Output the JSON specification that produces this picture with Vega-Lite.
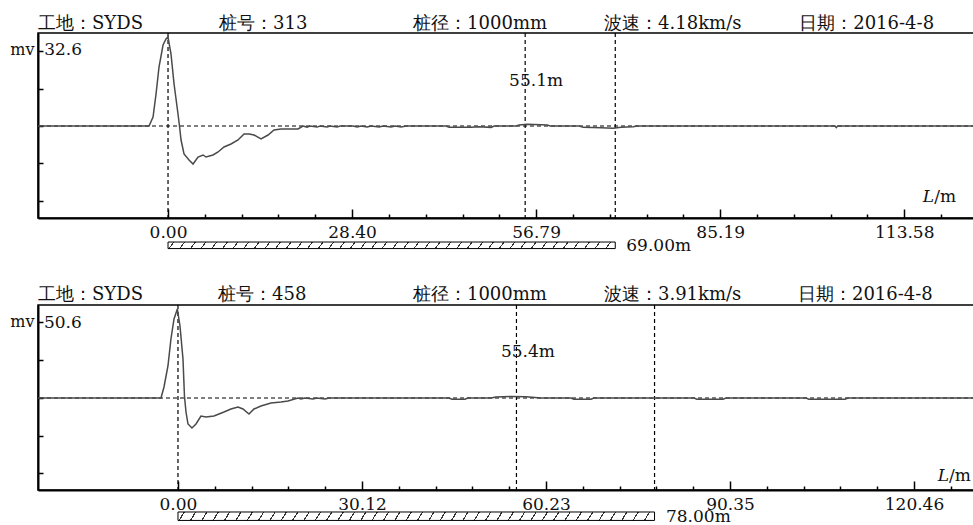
{
  "$schema": "https://vega.github.io/schema/vega-lite/v6.json",
  "background": "white",
  "padding": {"left": 9, "top": 13, "right": 0, "bottom": 0},
  "bounds": "flush",
  "spacing": 87,
  "config": {
    "view": {"stroke": "#000", "strokeWidth": 1.5},
    "font": "DejaVu Serif",
    "text": {"font": "DejaVu Serif", "fontSize": 17, "color": "#111"},
    "axis": {"grid": false, "domainColor": "#000", "domainWidth": 2, "tickColor": "#000", "tickWidth": 1.5, "labelFont": "DejaVu Serif", "labelFontSize": 17, "labelColor": "#111", "labelOverlap": false, "labelFlush": false, "labelBound": false},
    "rect": {
      "stroke": "#000", "strokeWidth": 1,
      "fill": {"gradient": "linear", "x1": 0, "y1": 0, "x2": 1, "y2": 0.011, "stops": [
        {"offset": 0.0119, "color": "#fff"}, {"offset": 0.0119, "color": "#333"}, {"offset": 0.0147, "color": "#333"}, {"offset": 0.0147, "color": "#fff"},
        {"offset": 0.0357, "color": "#fff"}, {"offset": 0.0357, "color": "#333"}, {"offset": 0.0385, "color": "#333"}, {"offset": 0.0385, "color": "#fff"},
        {"offset": 0.0595, "color": "#fff"}, {"offset": 0.0595, "color": "#333"}, {"offset": 0.0623, "color": "#333"}, {"offset": 0.0623, "color": "#fff"},
        {"offset": 0.0833, "color": "#fff"}, {"offset": 0.0833, "color": "#333"}, {"offset": 0.0861, "color": "#333"}, {"offset": 0.0861, "color": "#fff"},
        {"offset": 0.1071, "color": "#fff"}, {"offset": 0.1071, "color": "#333"}, {"offset": 0.1099, "color": "#333"}, {"offset": 0.1099, "color": "#fff"},
        {"offset": 0.1310, "color": "#fff"}, {"offset": 0.1310, "color": "#333"}, {"offset": 0.1338, "color": "#333"}, {"offset": 0.1338, "color": "#fff"},
        {"offset": 0.1548, "color": "#fff"}, {"offset": 0.1548, "color": "#333"}, {"offset": 0.1576, "color": "#333"}, {"offset": 0.1576, "color": "#fff"},
        {"offset": 0.1786, "color": "#fff"}, {"offset": 0.1786, "color": "#333"}, {"offset": 0.1814, "color": "#333"}, {"offset": 0.1814, "color": "#fff"},
        {"offset": 0.2024, "color": "#fff"}, {"offset": 0.2024, "color": "#333"}, {"offset": 0.2052, "color": "#333"}, {"offset": 0.2052, "color": "#fff"},
        {"offset": 0.2262, "color": "#fff"}, {"offset": 0.2262, "color": "#333"}, {"offset": 0.2290, "color": "#333"}, {"offset": 0.2290, "color": "#fff"},
        {"offset": 0.2500, "color": "#fff"}, {"offset": 0.2500, "color": "#333"}, {"offset": 0.2528, "color": "#333"}, {"offset": 0.2528, "color": "#fff"},
        {"offset": 0.2738, "color": "#fff"}, {"offset": 0.2738, "color": "#333"}, {"offset": 0.2766, "color": "#333"}, {"offset": 0.2766, "color": "#fff"},
        {"offset": 0.2976, "color": "#fff"}, {"offset": 0.2976, "color": "#333"}, {"offset": 0.3004, "color": "#333"}, {"offset": 0.3004, "color": "#fff"},
        {"offset": 0.3214, "color": "#fff"}, {"offset": 0.3214, "color": "#333"}, {"offset": 0.3242, "color": "#333"}, {"offset": 0.3242, "color": "#fff"},
        {"offset": 0.3452, "color": "#fff"}, {"offset": 0.3452, "color": "#333"}, {"offset": 0.3480, "color": "#333"}, {"offset": 0.3480, "color": "#fff"},
        {"offset": 0.3690, "color": "#fff"}, {"offset": 0.3690, "color": "#333"}, {"offset": 0.3718, "color": "#333"}, {"offset": 0.3718, "color": "#fff"},
        {"offset": 0.3929, "color": "#fff"}, {"offset": 0.3929, "color": "#333"}, {"offset": 0.3957, "color": "#333"}, {"offset": 0.3957, "color": "#fff"},
        {"offset": 0.4167, "color": "#fff"}, {"offset": 0.4167, "color": "#333"}, {"offset": 0.4195, "color": "#333"}, {"offset": 0.4195, "color": "#fff"},
        {"offset": 0.4405, "color": "#fff"}, {"offset": 0.4405, "color": "#333"}, {"offset": 0.4433, "color": "#333"}, {"offset": 0.4433, "color": "#fff"},
        {"offset": 0.4643, "color": "#fff"}, {"offset": 0.4643, "color": "#333"}, {"offset": 0.4671, "color": "#333"}, {"offset": 0.4671, "color": "#fff"},
        {"offset": 0.4881, "color": "#fff"}, {"offset": 0.4881, "color": "#333"}, {"offset": 0.4909, "color": "#333"}, {"offset": 0.4909, "color": "#fff"},
        {"offset": 0.5119, "color": "#fff"}, {"offset": 0.5119, "color": "#333"}, {"offset": 0.5147, "color": "#333"}, {"offset": 0.5147, "color": "#fff"},
        {"offset": 0.5357, "color": "#fff"}, {"offset": 0.5357, "color": "#333"}, {"offset": 0.5385, "color": "#333"}, {"offset": 0.5385, "color": "#fff"},
        {"offset": 0.5595, "color": "#fff"}, {"offset": 0.5595, "color": "#333"}, {"offset": 0.5623, "color": "#333"}, {"offset": 0.5623, "color": "#fff"},
        {"offset": 0.5833, "color": "#fff"}, {"offset": 0.5833, "color": "#333"}, {"offset": 0.5861, "color": "#333"}, {"offset": 0.5861, "color": "#fff"},
        {"offset": 0.6071, "color": "#fff"}, {"offset": 0.6071, "color": "#333"}, {"offset": 0.6099, "color": "#333"}, {"offset": 0.6099, "color": "#fff"},
        {"offset": 0.6310, "color": "#fff"}, {"offset": 0.6310, "color": "#333"}, {"offset": 0.6338, "color": "#333"}, {"offset": 0.6338, "color": "#fff"},
        {"offset": 0.6548, "color": "#fff"}, {"offset": 0.6548, "color": "#333"}, {"offset": 0.6576, "color": "#333"}, {"offset": 0.6576, "color": "#fff"},
        {"offset": 0.6786, "color": "#fff"}, {"offset": 0.6786, "color": "#333"}, {"offset": 0.6814, "color": "#333"}, {"offset": 0.6814, "color": "#fff"},
        {"offset": 0.7024, "color": "#fff"}, {"offset": 0.7024, "color": "#333"}, {"offset": 0.7052, "color": "#333"}, {"offset": 0.7052, "color": "#fff"},
        {"offset": 0.7262, "color": "#fff"}, {"offset": 0.7262, "color": "#333"}, {"offset": 0.7290, "color": "#333"}, {"offset": 0.7290, "color": "#fff"},
        {"offset": 0.7500, "color": "#fff"}, {"offset": 0.7500, "color": "#333"}, {"offset": 0.7528, "color": "#333"}, {"offset": 0.7528, "color": "#fff"},
        {"offset": 0.7738, "color": "#fff"}, {"offset": 0.7738, "color": "#333"}, {"offset": 0.7766, "color": "#333"}, {"offset": 0.7766, "color": "#fff"},
        {"offset": 0.7976, "color": "#fff"}, {"offset": 0.7976, "color": "#333"}, {"offset": 0.8004, "color": "#333"}, {"offset": 0.8004, "color": "#fff"},
        {"offset": 0.8214, "color": "#fff"}, {"offset": 0.8214, "color": "#333"}, {"offset": 0.8242, "color": "#333"}, {"offset": 0.8242, "color": "#fff"},
        {"offset": 0.8452, "color": "#fff"}, {"offset": 0.8452, "color": "#333"}, {"offset": 0.8480, "color": "#333"}, {"offset": 0.8480, "color": "#fff"},
        {"offset": 0.8690, "color": "#fff"}, {"offset": 0.8690, "color": "#333"}, {"offset": 0.8718, "color": "#333"}, {"offset": 0.8718, "color": "#fff"},
        {"offset": 0.8929, "color": "#fff"}, {"offset": 0.8929, "color": "#333"}, {"offset": 0.8957, "color": "#333"}, {"offset": 0.8957, "color": "#fff"},
        {"offset": 0.9167, "color": "#fff"}, {"offset": 0.9167, "color": "#333"}, {"offset": 0.9195, "color": "#333"}, {"offset": 0.9195, "color": "#fff"},
        {"offset": 0.9405, "color": "#fff"}, {"offset": 0.9405, "color": "#333"}, {"offset": 0.9433, "color": "#333"}, {"offset": 0.9433, "color": "#fff"},
        {"offset": 0.9643, "color": "#fff"}, {"offset": 0.9643, "color": "#333"}, {"offset": 0.9671, "color": "#333"}, {"offset": 0.9671, "color": "#fff"},
        {"offset": 0.9881, "color": "#fff"}, {"offset": 0.9881, "color": "#333"}, {"offset": 0.9909, "color": "#333"}, {"offset": 0.9909, "color": "#fff"}
      ]}
    }
  },
  "datasets": {
    "sig1": [
      {"d": -20.06, "v": 0}, {"d": -2.93, "v": 0}, {"d": -2.31, "v": 3.30}, {"d": -1.85, "v": 11.72}, {"d": -1.39, "v": 21.61}, {"d": -0.77, "v": 29.67}, {"d": -0.31, "v": 31.87}, {"d": 0, "v": 32.6}, {"d": 0.46, "v": 26.37}, {"d": 0.93, "v": 15.38}, {"d": 1.54, "v": 4.40}, {"d": 1.77, "v": 0}, {"d": 2.01, "v": -5.13}, {"d": 2.47, "v": -10.26}, {"d": 3.24, "v": -12.45}, {"d": 3.86, "v": -13.92}, {"d": 4.63, "v": -11.36}, {"d": 5.40, "v": -10.62}, {"d": 5.86, "v": -11.36}, {"d": 6.94, "v": -10.62}, {"d": 7.72, "v": -9.52}, {"d": 8.64, "v": -7.69}, {"d": 9.72, "v": -6.59}, {"d": 10.80, "v": -5.13}, {"d": 11.73, "v": -2.93}, {"d": 12.50, "v": -2.93}, {"d": 13.27, "v": -3.30}, {"d": 14.35, "v": -4.76}, {"d": 15.43, "v": -3.30}, {"d": 16.36, "v": -1.47}, {"d": 17.44, "v": -1.10}, {"d": 20.06, "v": -1.10}, {"d": 20.83, "v": 0},
      {"d": 21.45, "v": -0.4}, {"d": 21.91, "v": 0}, {"d": 22.99, "v": -0.4}, {"d": 23.46, "v": 0}, {"d": 24.54, "v": -0.4}, {"d": 25.0, "v": 0}, {"d": 26.08, "v": -0.4}, {"d": 26.54, "v": 0},
      {"d": 28.55, "v": 0}, {"d": 29.17, "v": -0.4}, {"d": 29.78, "v": 0}, {"d": 30.71, "v": -0.4}, {"d": 31.33, "v": 0}, {"d": 32.56, "v": -0.4}, {"d": 33.18, "v": 0}, {"d": 34.41, "v": -0.4}, {"d": 35.03, "v": 0}, {"d": 35.96, "v": -0.4}, {"d": 36.73, "v": 0},
      {"d": 42.90, "v": 0}, {"d": 43.36, "v": -0.5}, {"d": 46.76, "v": -0.5}, {"d": 47.99, "v": -0.3}, {"d": 49.85, "v": -0.5}, {"d": 50.31, "v": 0},
      {"d": 53.70, "v": 0}, {"d": 54.17, "v": 0.4}, {"d": 55.40, "v": 0.6}, {"d": 57.56, "v": 0.5}, {"d": 58.49, "v": 0.4}, {"d": 58.95, "v": 0},
      {"d": 63.43, "v": 0}, {"d": 64.04, "v": -0.5}, {"d": 66.82, "v": -0.6}, {"d": 68.67, "v": -0.8}, {"d": 69.91, "v": -0.5}, {"d": 71.76, "v": -0.3}, {"d": 72.38, "v": 0},
      {"d": 102.9, "v": 0}, {"d": 103.1, "v": -0.6}, {"d": 103.3, "v": 0}, {"d": 124.5, "v": 0}
    ],
    "sig2": [
      {"d": -22.91, "v": 0}, {"d": -2.78, "v": 0}, {"d": -2.29, "v": 6.25}, {"d": -1.64, "v": 18.19}, {"d": -1.15, "v": 33.54}, {"d": -0.65, "v": 44.91}, {"d": -0.1, "v": 50.6}, {"d": 0.33, "v": 40.93}, {"d": 0.82, "v": 22.17}, {"d": 1.06, "v": 1.14}, {"d": 1.31, "v": -7.96}, {"d": 1.64, "v": -14.78}, {"d": 2.29, "v": -17.06}, {"d": 2.95, "v": -14.78}, {"d": 3.76, "v": -10.23}, {"d": 4.58, "v": -10.80}, {"d": 5.89, "v": -10.23}, {"d": 7.53, "v": -7.96}, {"d": 8.67, "v": -6.25}, {"d": 9.82, "v": -5.12}, {"d": 10.64, "v": -6.25}, {"d": 11.62, "v": -9.10}, {"d": 12.44, "v": -6.25}, {"d": 13.58, "v": -4.55}, {"d": 15.22, "v": -2.84}, {"d": 16.86, "v": -2.27}, {"d": 18.00, "v": -1.71}, {"d": 19.64, "v": 0},
      {"d": 20.13, "v": -0.6}, {"d": 20.79, "v": 0}, {"d": 22.09, "v": -0.6}, {"d": 22.75, "v": 0}, {"d": 24.06, "v": -0.6}, {"d": 24.71, "v": 0},
      {"d": 44.35, "v": 0}, {"d": 44.84, "v": -0.7}, {"d": 46.97, "v": -0.7}, {"d": 47.46, "v": 0},
      {"d": 51.23, "v": 0}, {"d": 52.05, "v": 0.6}, {"d": 54.50, "v": 0.9}, {"d": 56.96, "v": 0.7}, {"d": 59.41, "v": 0},
      {"d": 64.32, "v": 0}, {"d": 64.81, "v": -0.7}, {"d": 67.59, "v": -0.7}, {"d": 68.08, "v": 0},
      {"d": 84.45, "v": 0}, {"d": 84.94, "v": -0.7}, {"d": 89.20, "v": -0.7}, {"d": 89.69, "v": 0},
      {"d": 102.78, "v": 0}, {"d": 103.27, "v": -0.7}, {"d": 109.17, "v": -0.7}, {"d": 109.66, "v": 0}, {"d": 130.45, "v": 0}
    ],
    "zero": [{"v": 0}],
    "vl1": [{"d": 0}, {"d": 55.1}, {"d": 69.0}],
    "vl2": [{"d": 0}, {"d": 55.4}, {"d": 78.0}],
    "hdr1": [
      {"t": "工地：SYDS", "d": -20.06, "v": 35.7},
      {"t": "桩号：313", "d": 7.87, "v": 35.7},
      {"t": "桩径：1000mm", "d": 37.81, "v": 35.7},
      {"t": "波速：4.18km/s", "d": 67.28, "v": 35.7},
      {"t": "日期：2016-4-8", "d": 97.38, "v": 35.7}
    ],
    "hdr2": [
      {"t": "工地：SYDS", "d": -22.91, "v": 55.9},
      {"t": "桩号：458", "d": 6.55, "v": 55.9},
      {"t": "桩径：1000mm", "d": 38.46, "v": 55.9},
      {"t": "波速：3.91km/s", "d": 69.72, "v": 55.9},
      {"t": "日期：2016-4-8", "d": 101.47, "v": 55.9}
    ],
    "lbl1": [
      {"t": "32.6", "d": -19.1, "v": 26.0},
      {"t": "55.1m", "d": 52.62, "v": 14.5},
      {"t": "69.00m", "d": 70.7, "v": -45.7},
      {"t": "/m", "d": 118.2, "v": -27.95}
    ],
    "lbl2": [
      {"t": "50.6", "d": -21.93, "v": 39.8},
      {"t": "55.4m", "d": 52.86, "v": 23.3},
      {"t": "78.00m", "d": 79.87, "v": -70.5},
      {"t": "/m", "d": 126.2, "v": -47.0}
    ],
    "mv1": [{"t": "mv", "d": -20.6, "v": 26.19}],
    "mv2": [{"t": "mv", "d": -23.49, "v": 40.4}],
    "ll1": [{"t": "L", "d": 118.2, "v": -27.95}],
    "ll2": [{"t": "L", "d": 126.2, "v": -47.0}],
    "bar1": [{"a": 0, "b": 69.0, "lo": -44.9, "hi": -42.5}],
    "bar2": [{"a": 0, "b": 78.0, "lo": -69.6, "hi": -64.8}]
  },
  "vconcat": [
    {
      "width": 937,
      "height": 185,
      "layer": [
        {
          "data": {"name": "zero"},
          "mark": {"type": "rule", "strokeDash": [4, 3], "color": "#000", "strokeWidth": 1.2},
          "encoding": {"y": {"field": "v", "type": "quantitative", "title": null}}
        },
        {
          "data": {"name": "vl1"},
          "mark": {"type": "rule", "strokeDash": [4, 3], "color": "#000", "strokeWidth": 1.2},
          "encoding": {"x": {"field": "d", "type": "quantitative", "title": null}}
        },
        {
          "data": {"name": "sig1"},
          "mark": {"type": "line", "color": "#4a4a4a", "strokeWidth": 1.5},
          "encoding": {
            "x": {"field": "d", "type": "quantitative", "title": null,
              "scale": {"domain": [-20.06, 124.5], "nice": false, "zero": false},
              "axis": {
                "values": [0, 5.679, 11.358, 17.038, 22.717, 28.396, 34.075, 39.754, 45.434, 51.113, 56.792, 62.471, 68.15, 73.83, 79.509, 85.188, 90.867, 96.546, 102.226, 107.905, 113.584, 119.263],
                "labelExpr": "indexof([0, 28.396, 56.792, 85.188, 113.584], datum.value) >= 0 ? format(datum.value, '.2f') : ''",
                "tickSize": {"condition": {"test": "indexof([0, 28.396, 56.792, 85.188, 113.584], datum.value) >= 0", "value": -9}, "value": -4},
                "labelBaseline": "alphabetic",
                "labelPadding": 28,
                "title": null
              }
            },
            "y": {"field": "v", "type": "quantitative", "title": null,
              "scale": {"domain": [-33.70, 34.07], "nice": false, "zero": false},
              "axis": {"values": [-27.5, -20.8, -13.7, -6.9, 0, 6.7, 13.4, 20.4, 27.5], "labels": false, "tickSize": -5, "title": null}
            }
          }
        },
        {
          "data": {"name": "hdr1"},
          "mark": {"type": "text", "align": "left", "baseline": "alphabetic", "fontSize": 18},
          "encoding": {
            "x": {"field": "d", "type": "quantitative", "title": null},
            "y": {"field": "v", "type": "quantitative", "title": null},
            "text": {"field": "t"}
          }
        },
        {
          "data": {"name": "lbl1"},
          "mark": {"type": "text", "align": "left", "baseline": "alphabetic", "fontSize": 17},
          "encoding": {
            "x": {"field": "d", "type": "quantitative", "title": null},
            "y": {"field": "v", "type": "quantitative", "title": null},
            "text": {"field": "t"}
          }
        },
        {
          "data": {"name": "mv1"},
          "mark": {"type": "text", "align": "right", "baseline": "alphabetic", "fontSize": 16},
          "encoding": {
            "x": {"field": "d", "type": "quantitative", "title": null},
            "y": {"field": "v", "type": "quantitative", "title": null},
            "text": {"field": "t"}
          }
        },
        {
          "data": {"name": "ll1"},
          "mark": {"type": "text", "align": "right", "baseline": "alphabetic", "fontSize": 17, "fontStyle": "italic"},
          "encoding": {
            "x": {"field": "d", "type": "quantitative", "title": null},
            "y": {"field": "v", "type": "quantitative", "title": null},
            "text": {"field": "t"}
          }
        },
        {
          "data": {"name": "bar1"},
          "mark": {"type": "rect"},
          "encoding": {
            "x": {"field": "a", "type": "quantitative", "title": null},
            "x2": {"field": "b"},
            "y": {"field": "lo", "type": "quantitative", "title": null},
            "y2": {"field": "hi"}
          }
        }
      ]
    },
    {
      "width": 937,
      "height": 185,
      "layer": [
        {
          "data": {"name": "zero"},
          "mark": {"type": "rule", "strokeDash": [4, 3], "color": "#000", "strokeWidth": 1.2},
          "encoding": {"y": {"field": "v", "type": "quantitative", "title": null}}
        },
        {
          "data": {"name": "vl2"},
          "mark": {"type": "rule", "strokeDash": [4, 3], "color": "#000", "strokeWidth": 1.2},
          "encoding": {"x": {"field": "d", "type": "quantitative", "title": null}}
        },
        {
          "data": {"name": "sig2"},
          "mark": {"type": "line", "color": "#4a4a4a", "strokeWidth": 1.5},
          "encoding": {
            "x": {"field": "d", "type": "quantitative", "title": null,
              "scale": {"domain": [-22.91, 130.45], "nice": false, "zero": false},
              "axis": {
                "values": [0, 6.023, 12.046, 18.07, 24.093, 30.116, 36.139, 42.162, 48.186, 54.209, 60.232, 66.255, 72.278, 78.302, 84.325, 90.348, 96.371, 102.394, 108.418, 114.441, 120.464, 126.487],
                "labelExpr": "indexof([0, 30.116, 60.232, 90.348, 120.464], datum.value) >= 0 ? format(datum.value, '.2f') : ''",
                "tickSize": {"condition": {"test": "indexof([0, 30.116, 60.232, 90.348, 120.464], datum.value) >= 0", "value": -9}, "value": -4},
                "labelBaseline": "alphabetic",
                "labelPadding": 28,
                "title": null
              }
            },
            "y": {"field": "v", "type": "quantitative", "title": null,
              "scale": {"domain": [-52.30, 52.87], "nice": false, "zero": false},
              "axis": {"values": [-42.8, -32.1, -21.4, -10.7, 0, 10.7, 21.4, 32.1, 43.0], "labels": false, "tickSize": -5, "title": null}
            }
          }
        },
        {
          "data": {"name": "hdr2"},
          "mark": {"type": "text", "align": "left", "baseline": "alphabetic", "fontSize": 18},
          "encoding": {
            "x": {"field": "d", "type": "quantitative", "title": null},
            "y": {"field": "v", "type": "quantitative", "title": null},
            "text": {"field": "t"}
          }
        },
        {
          "data": {"name": "lbl2"},
          "mark": {"type": "text", "align": "left", "baseline": "alphabetic", "fontSize": 17},
          "encoding": {
            "x": {"field": "d", "type": "quantitative", "title": null},
            "y": {"field": "v", "type": "quantitative", "title": null},
            "text": {"field": "t"}
          }
        },
        {
          "data": {"name": "mv2"},
          "mark": {"type": "text", "align": "right", "baseline": "alphabetic", "fontSize": 16},
          "encoding": {
            "x": {"field": "d", "type": "quantitative", "title": null},
            "y": {"field": "v", "type": "quantitative", "title": null},
            "text": {"field": "t"}
          }
        },
        {
          "data": {"name": "ll2"},
          "mark": {"type": "text", "align": "right", "baseline": "alphabetic", "fontSize": 17, "fontStyle": "italic"},
          "encoding": {
            "x": {"field": "d", "type": "quantitative", "title": null},
            "y": {"field": "v", "type": "quantitative", "title": null},
            "text": {"field": "t"}
          }
        },
        {
          "data": {"name": "bar2"},
          "mark": {"type": "rect"},
          "encoding": {
            "x": {"field": "a", "type": "quantitative", "title": null},
            "x2": {"field": "b"},
            "y": {"field": "lo", "type": "quantitative", "title": null},
            "y2": {"field": "hi"}
          }
        }
      ]
    }
  ]
}
